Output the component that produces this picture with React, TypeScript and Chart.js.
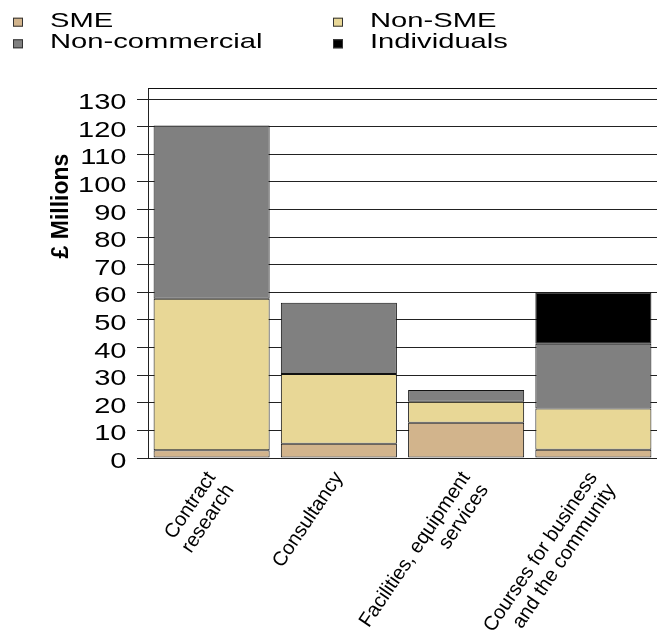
import React, { useEffect, useRef } from "react";
import { Chart, registerables } from "chart.js";

Chart.register(...registerables);

const categories: string[][] = [
  ["Contract", "research"],
  ["Consultancy"],
  ["Facilities, equipment", "services"],
  ["Courses for business", "and the community"],
];

const seriesNames = ["SME", "Non-SME", "Non-commercial", "Individuals"];
const sme = [2.8, 5.2, 12.8, 3.0];
const nonSme = [54.9, 25.2, 7.6, 14.9];
const nonCommercial = [62.7, 25.8, 4.2, 23.5];
const individuals: (number | null)[] = [null, null, null, 18.5];
const seriesColors = ["#D2B48C", "#E8D796", "#808080", "#000000"];

const yMin = 0;
const yMax = 134;
const yStep = 10;
const yTitle = "£ Millions";

const FONT = '"Liberation Sans", Arial, Helvetica, sans-serif';

const textPlugin = {
  id: "wideText",
  afterDraw(chart: any) {
    const ctx = chart.ctx;
    const ys = chart.scales.y;
    const a = chart.chartArea;
    ctx.save();
    // top frame line of the plot box
    ctx.strokeStyle = "#111";
    ctx.lineWidth = 1;
    ctx.beginPath();
    ctx.moveTo(a.left, Math.round(a.top) + 0.5);
    ctx.lineTo(a.right, Math.round(a.top) + 0.5);
    ctx.stroke();

    ctx.fillStyle = "#000";
    // y tick labels
    ctx.font = `22px ${FONT}`;
    ctx.textAlign = "right";
    ctx.textBaseline = "middle";
    for (const t of ys.ticks) {
      if (t.value % yStep !== 0) continue;
      const py = ys.getPixelForValue(t.value) + 4;
      ctx.save();
      ctx.translate(126.5, py);
      ctx.scale(1.32, 1);
      ctx.fillText(String(t.value), 0, 0);
      ctx.restore();
    }
    // y title
    ctx.save();
    ctx.font = `bold 23px ${FONT}`;
    ctx.textAlign = "center";
    ctx.textBaseline = "middle";
    ctx.translate(62, 206);
    ctx.rotate(-Math.PI / 2);
    ctx.fillText(yTitle, 0, 0);
    ctx.restore();
    // legend (2 x 2 grid)
    const colX = [13, 333];
    const rowBase = [26.7, 48.3];
    const ds = chart.data.datasets;
    ctx.font = `21px ${FONT}`;
    ctx.textAlign = "left";
    ctx.textBaseline = "alphabetic";
    ds.forEach((d: any, i: number) => {
      const c = i % 2;
      const r = Math.floor(i / 2);
      const sx = colX[c];
      const sy = rowBase[r] - 9;
      ctx.fillStyle = d.backgroundColor;
      ctx.fillRect(sx, sy, 10, 9);
      ctx.strokeStyle = "#333";
      ctx.lineWidth = 1;
      ctx.strokeRect(sx + 0.5, sy + 0.5, 9, 8);
      ctx.fillStyle = "#000";
      ctx.save();
      ctx.translate(sx + 37, rowBase[r]);
      ctx.scale(1.39, 1);
      ctx.fillText(d.label, 0, 0);
      ctx.restore();
    });
    ctx.restore();
  },
};

export default function App() {
  const ref = useRef<HTMLCanvasElement | null>(null);
  useEffect(() => {
    if (!ref.current) return;
    const values = [sme, nonSme, nonCommercial, individuals];
    const chart = new Chart(ref.current, {
      type: "bar",
      data: {
        labels: categories,
        datasets: seriesNames.map((name, i) => ({
          label: name,
          data: values[i],
          backgroundColor: seriesColors[i],
          borderColor: "#111111",
          borderWidth: 1,
          borderSkipped: false,
          barPercentage: 0.912,
          categoryPercentage: 1.0,
        })),
      },
      options: {
        responsive: false,
        animation: false,
        devicePixelRatio: 1,
        layout: { padding: { top: 88, left: 0, right: 0, bottom: 0 } },
        plugins: {
          legend: { display: false },
          tooltip: { enabled: false },
        },
        scales: {
          x: {
            stacked: true,
            grid: { display: false },
            border: { display: false },
            ticks: {
              color: "#000",
              font: { family: FONT, size: 20, lineHeight: 1.1 },
              minRotation: 56,
              maxRotation: 56,
              autoSkip: false,
              padding: 2,
            },
            afterFit: (s: any) => {
              s.height = 178;
              s.paddingLeft = 0;
              s.paddingRight = 0;
            },
          },
          y: {
            stacked: true,
            min: yMin,
            max: yMax,
            ticks: {
              stepSize: yStep,
              autoSkip: false,
              maxTicksLimit: 50,
              color: "rgba(0,0,0,0)",
              font: { family: FONT, size: 8 },
            },
            afterBuildTicks: (s: any) => {
              s.ticks = s.ticks.filter((t: any) => t.value % yStep === 0);
            },
            grid: {
              color: "#222",
              lineWidth: 1,
              tickLength: 11,
              tickColor: "#222",
            },
            border: { display: true, color: "#222", width: 1 },
            afterFit: (s: any) => {
              s.width = 148;
              s.paddingTop = 0;
              s.paddingBottom = 0;
            },
          },
        },
      },
      plugins: [textPlugin],
    });
    return () => chart.destroy();
  }, []);
  return (
    <div style={{ position: "absolute", left: 0, top: 0, width: 657, height: 636, background: "#fff" }}>
      <canvas ref={ref} width={657} height={636} style={{ display: "block" }} />
    </div>
  );
}
